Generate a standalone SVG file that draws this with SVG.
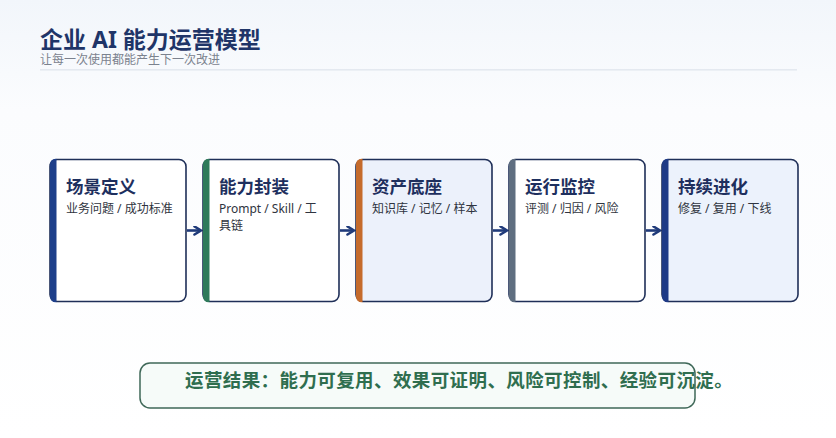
<svg xmlns="http://www.w3.org/2000/svg" width="836" height="438" viewBox="0 0 836 438">
<defs>
<linearGradient id="bg" x1="0" y1="0" x2="0" y2="1">
<stop offset="0" stop-color="#f2f6fb"/>
<stop offset="0.25" stop-color="#fbfcfe"/>
<stop offset="1" stop-color="#ffffff"/>
</linearGradient>
<marker id="ah" viewBox="0 0 10 10" refX="8" refY="5" markerWidth="10" markerHeight="10" markerUnits="userSpaceOnUse" orient="auto">
<path d="M1.5,1 L8,5 L1.5,9" fill="none" stroke="#1f3a7a" stroke-width="2.6" stroke-linejoin="miter" stroke-linecap="round"/>
</marker>
</defs>
<style>
.f{font-family:"Noto Sans","Noto Sans CJK SC",sans-serif}
.title{font-size:23px;font-weight:700;fill:#1f3568}
.sub{font-size:12px;fill:#7b828e}
.card{stroke:#1f2f58;stroke-width:1.6}
.ct{font-size:17.5px;font-weight:700;fill:#1e2f5e}
.cs{font-size:12px;fill:#2f3440}
.conn{stroke:#1f3a7a;stroke-width:2.6;fill:none}
.res{font-size:18.5px;font-weight:700;fill:#2f6e4f;letter-spacing:0.4px}
</style>
<rect x="0" y="0" width="836" height="438" fill="url(#bg)"/>
<g id="header">
<text class="f title" x="40" y="48">企业 AI 能力运营模型</text>
<text class="f sub" x="40" y="64">让每一次使用都能产生下一次改进</text>
<rect x="40" y="69" width="757" height="1.6" fill="#e4e9f0"/>
</g>
<g id="connectors">
<line class="conn" x1="187" y1="230.5" x2="201" y2="230.5" marker-end="url(#ah)"/>
<line class="conn" x1="340" y1="230.5" x2="354" y2="230.5" marker-end="url(#ah)"/>
<line class="conn" x1="493" y1="230.5" x2="507" y2="230.5" marker-end="url(#ah)"/>
<line class="conn" x1="646" y1="230.5" x2="660" y2="230.5" marker-end="url(#ah)"/>
</g>
<g id="n1">
<rect class="card" x="50" y="159.5" width="136" height="142" rx="7" fill="#ffffff"/>
<path d="M56.5,158.7 H55.5 A5.5,5.5 0 0 0 50,164.2 V296.8 A5.5,5.5 0 0 0 55.5,302.3 H56.5 Z" fill="#1e3f8a"/>
<text class="f ct" x="66" y="192.5">场景定义</text>
<text class="f cs" x="66" y="213">业务问题 / 成功标准</text>
</g>
<g id="n2">
<rect class="card" x="203" y="159.5" width="136" height="142" rx="7" fill="#ffffff"/>
<path d="M209.5,158.7 H208.5 A5.5,5.5 0 0 0 203,164.2 V296.8 A5.5,5.5 0 0 0 208.5,302.3 H209.5 Z" fill="#2e7a5a"/>
<text class="f ct" x="219" y="192.5">能力封装</text>
<text class="f cs" x="219" y="213">Prompt / Skill / 工</text>
<text class="f cs" x="219" y="230">具链</text>
</g>
<g id="n3">
<rect class="card" x="356" y="159.5" width="136" height="142" rx="7" fill="#ecf1fb"/>
<path d="M362.5,158.7 H361.5 A5.5,5.5 0 0 0 356,164.2 V296.8 A5.5,5.5 0 0 0 361.5,302.3 H362.5 Z" fill="#c56b2c"/>
<text class="f ct" x="372" y="192.5">资产底座</text>
<text class="f cs" x="372" y="213">知识库 / 记忆 / 样本</text>
</g>
<g id="n4">
<rect class="card" x="509" y="159.5" width="136" height="142" rx="7" fill="#ffffff"/>
<path d="M515.5,158.7 H514.5 A5.5,5.5 0 0 0 509,164.2 V296.8 A5.5,5.5 0 0 0 514.5,302.3 H515.5 Z" fill="#5f6e80"/>
<text class="f ct" x="525" y="192.5">运行监控</text>
<text class="f cs" x="525" y="213">评测 / 归因 / 风险</text>
</g>
<g id="n5">
<rect class="card" x="662" y="159.5" width="136" height="142" rx="7" fill="#ecf2fc"/>
<path d="M668.5,158.7 H667.5 A5.5,5.5 0 0 0 662,164.2 V296.8 A5.5,5.5 0 0 0 667.5,302.3 H668.5 Z" fill="#1e3a86"/>
<text class="f ct" x="678" y="192.5">持续进化</text>
<text class="f cs" x="678" y="213">修复 / 复用 / 下线</text>
</g>
<g id="result">
<rect x="140" y="363" width="555" height="45" rx="10" fill="#f6fbf9" stroke="#3f6858" stroke-width="1.5"/>
<text class="f res" x="185" y="387">运营结果：能力可复用、效果可证明、风险可控制、经验可沉淀。</text>
</g>
</svg>
